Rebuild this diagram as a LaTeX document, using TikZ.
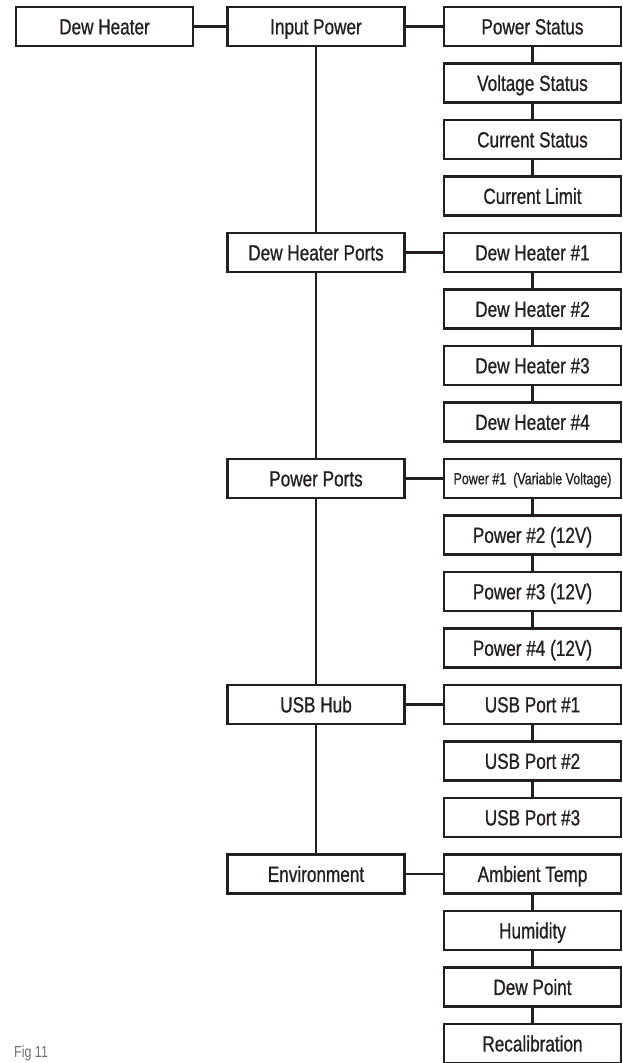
\documentclass[tikz,border=0pt]{standalone}
\usepackage{fontspec}
\setmainfont{Liberation Sans}[FakeStretch=0.78,FakeBold=0.8]
\newfontfamily\figfont{Liberation Sans}[FakeStretch=0.78]
\definecolor{ink}{HTML}{231F20}
\definecolor{figgray}{HTML}{6D6E71}
\begin{document}
\begin{tikzpicture}[x=1pt,y=-1pt,
  box/.style={draw=ink, line width=2.3pt, minimum width=177pt, minimum height=39pt, inner sep=0pt, text=ink, text height=15.8pt, text depth=0pt, font=\fontsize{22}{25}\selectfont},
  smallbox/.style={box, text height=11.5pt, font=\fontsize{16}{18}\selectfont},
  conn/.style={draw=ink, line width=2.3pt}]
\useasboundingbox (0,0) rectangle (622,1063);
% left and middle column
\node[box] (dh) at (104.5,26.5) {Dew Heater};
\node[box] (ip) at (316,26.5) {Input Power};
\node[box] (dhp) at (316,{26.5+56.5*4}) {Dew Heater Ports};
\node[box] (pp) at (316,{26.5+56.5*8}) {Power Ports};
\node[box] (usb) at (316,{26.5+56.5*12}) {USB Hub};
\node[box] (env) at (316,{26.5+56.5*15}) {Environment};
% right column
\foreach \i/\t in {0/Power Status,1/Voltage Status,2/Current Status,3/Current Limit,
  4/Dew Heater \#1,5/Dew Heater \#2,6/Dew Heater \#3,7/Dew Heater \#4,
  9/Power \#2 (12V),10/Power \#3 (12V),11/Power \#4 (12V),
  12/USB Port \#1,13/USB Port \#2,14/USB Port \#3,
  15/Ambient Temp,16/Humidity,17/Dew Point,18/Recalibration}
  \node[box] (r\i) at (532.5,{26.5+56.5*\i}) {\t};
\node[smallbox] (r8) at (532.5,{26.5+56.5*8}) {Power \#1\ \ (Variable Voltage)};
% connectors
\draw[conn] (dh.east) -- (ip.west);
\draw[conn] (ip.east) -- (r0.west);
\draw[conn] (dhp.east) -- (r4.west);
\draw[conn] (pp.east) -- (r8.west);
\draw[conn] (usb.east) -- (r12.west);
\draw[conn] (env.east) -- (r15.west);
\draw[conn] (ip.south) -- (dhp.north);
\draw[conn] (dhp.south) -- (pp.north);
\draw[conn] (pp.south) -- (usb.north);
\draw[conn] (usb.south) -- (env.north);
\foreach \a/\b in {0/1,1/2,2/3,4/5,5/6,6/7,8/9,9/10,10/11,12/13,13/14,15/16,16/17,17/18}
  \draw[conn] (r\a.south) -- (r\b.north);
\node[anchor=base west, inner sep=0pt, text=figgray, font=\figfont\fontsize{16}{18}\selectfont] (fig) at (14,1057) {Fig 11};
\end{tikzpicture}
\end{document}
